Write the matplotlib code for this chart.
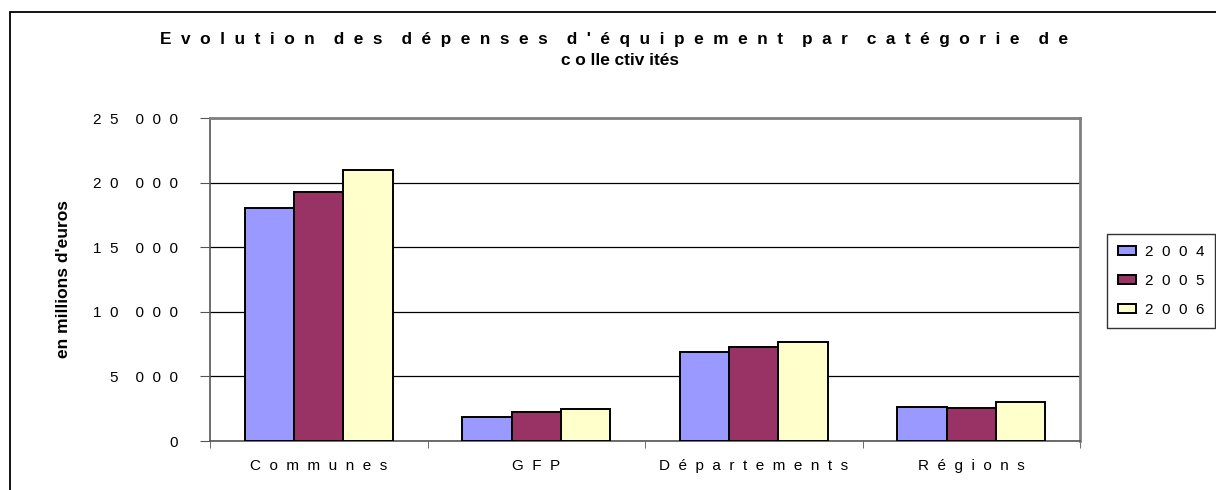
import numpy as np
import matplotlib.pyplot as plt
from matplotlib.patches import Rectangle

plt.rcParams['font.family'] = ['Liberation Sans', 'DejaVu Sans']

categories = ['Communes', 'GFP', 'Départements', 'Régions']
years = ['2004', '2005', '2006']
values_2004 = [18000, 1880, 6850, 2610]
values_2005 = [19300, 2250, 7280, 2530]
values_2006 = [20950, 2500, 7660, 3020]
colors = ['#9999FF', '#993366', '#FFFFCC']
y_ticks = [0, 5000, 10000, 15000, 20000, 25000]
title_1 = "Evolution des dépenses d'équipement par catégorie de"
title_2 = 'c o lle ctiv ités'


def spaced(text):
    # wide letter spacing like the Excel export
    return '    '.join('  '.join(w) for w in text.split(' '))


def fmt(v):
    return spaced(f'{v:,}'.replace(',', ' '))


fig = plt.figure(figsize=(12.16, 4.9), dpi=100)
ax = fig.add_axes([210 / 1216, 49 / 490, 870 / 1216, 323 / 490])

# outer chart frame
fig.patches.append(Rectangle((10 / 1216, -0.1), 1.2, (490 - 12) / 490 + 0.1,
                             transform=fig.transFigure, fill=False,
                             edgecolor='black', linewidth=1.3))

x = np.arange(len(categories))
w = 0.227
for i, (vals, c, yr) in enumerate(zip([values_2004, values_2005, values_2006], colors, years)):
    ax.bar(x + (i - 1) * w, vals, width=w, color=c, edgecolor='black',
           linewidth=1.4, label=spaced(yr), zorder=3)

ax.set_xlim(-0.5, len(categories) - 0.5)
ax.set_ylim(0, 25000)
ax.set_yticks(y_ticks)
ax.set_yticklabels([fmt(v) for v in y_ticks], fontsize=11)
ax.yaxis.grid(True, color='black', linewidth=0.9, zorder=0)
ax.set_xticks(x)
ax.set_xticklabels([spaced(c) for c in categories], fontsize=11)
ax.set_xticks(np.arange(-0.5, len(categories)), minor=True)
ax.tick_params(axis='x', which='major', length=0, pad=13)
ax.tick_params(axis='x', which='minor', length=5, direction='out', color='#555555')
ax.tick_params(axis='y', length=7, direction='out', color='#555555', pad=16)

for side in ['top', 'right']:
    ax.spines[side].set_color('#808080')
    ax.spines[side].set_linewidth(2)
for side in ['left', 'bottom']:
    ax.spines[side].set_color('#555555')
    ax.spines[side].set_linewidth(1.2)

ax.set_ylabel("en millions d'euros", fontsize=12.5, fontweight='bold')
ax.yaxis.set_label_coords(-0.160, 0.5)

fig.text(0.505, 1 - 44 / 490, spaced(title_1),
         ha='center', va='baseline', fontsize=12.4, fontweight='bold')
fig.text(0.51, 1 - 65 / 490, title_2,
         ha='center', va='baseline', fontsize=12.4, fontweight='bold')

leg = ax.legend(loc='center left', bbox_to_anchor=(1107 / 1216, (490 - 281) / 490),
                bbox_transform=fig.transFigure, fontsize=11, frameon=True,
                fancybox=False, edgecolor='black', handlelength=1.2,
                handleheight=0.6, handletextpad=0.6, labelspacing=0.98,
                borderpad=0.7, borderaxespad=0)
leg.get_frame().set_linewidth(1.0)

fig.savefig('out.png', dpi=100)
